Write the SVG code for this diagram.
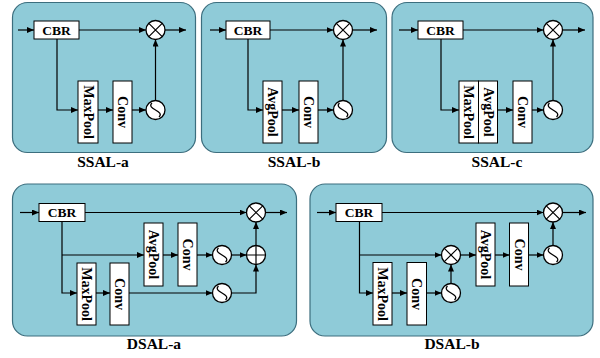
<svg xmlns="http://www.w3.org/2000/svg" width="600" height="358" viewBox="0 0 600 358">
<style>
.panel{fill:#8FCBD8;stroke:#3C6E7E;stroke-width:1.2}
.box{fill:#fff;stroke:#000;stroke-width:1}
.op{fill:#fff;stroke:#000;stroke-width:1.3}
.sym{fill:none;stroke:#000;stroke-width:1.2}
.lbl{font-family:"Liberation Serif","Times New Roman",serif;font-weight:bold;font-size:13.5px;fill:#000}
.vl{font-size:14px}
.title{font-family:"Liberation Serif","Times New Roman",serif;font-weight:bold;font-size:15.5px;fill:#000;text-anchor:middle}
.conn path{fill:none;stroke:#000;stroke-width:1.2;marker-end:url(#ah)}
</style>
<defs>
<marker id="ah" markerUnits="userSpaceOnUse" markerWidth="7" markerHeight="6" refX="7" refY="3" orient="auto">
<path d="M0,0 L7,3 L0,6 z" fill="#000"/>
</marker>
<g id="mul"><circle class="op" r="9.5"/><path class="sym" d="M-6.7,-6.7 L6.7,6.7 M-6.7,6.7 L6.7,-6.7"/></g>
<g id="add"><circle class="op" r="9.5"/><path class="sym" d="M-9.5,0 H9.5 M0,-9.5 V9.5"/></g>
<g id="sig"><circle class="op" r="9.5"/><path class="sym" d="M-3.5,-7 C-10,-1 10,1 3.5,7"/></g>
</defs>

<g id="panels">
<rect class="panel" x="12.5" y="2.5" width="183" height="150" rx="15"/>
<rect class="panel" x="201.5" y="2.5" width="185" height="150" rx="15"/>
<rect class="panel" x="392" y="2.5" width="201" height="150" rx="15"/>
<rect class="panel" x="12.5" y="184" width="284" height="152" rx="15"/>
<rect class="panel" x="310" y="184" width="283" height="152" rx="15"/>
</g>

<g class="conn" id="connectors">
<!-- SSAL-a -->
<path d="M18,30 H34"/>
<path d="M79,30 H146"/>
<path d="M165,30 H186"/>
<path d="M57,39 V110 H78"/>
<path d="M98,110 H113"/>
<path d="M132,110 H146"/>
<path d="M155.5,100.5 V39.5"/>
<!-- SSAL-b -->
<path d="M210,30 H226"/>
<path d="M270,30 H333.5"/>
<path d="M352.5,30 H377"/>
<path d="M248,39 V110 H263"/>
<path d="M282,110 H299"/>
<path d="M318,110 H333.5"/>
<path d="M343,100.5 V39.5"/>
<!-- SSAL-c -->
<path d="M399,30 H418"/>
<path d="M463,30 H543.5"/>
<path d="M562.5,30 H585"/>
<path d="M441,39 V110 H459"/>
<path d="M497.5,110 H513"/>
<path d="M532,110 H543.5"/>
<path d="M553,100.5 V39.5"/>
<!-- DSAL-a -->
<path d="M20,212.5 H39"/>
<path d="M85,212.5 H246.5"/>
<path d="M265.5,212.5 H287"/>
<path d="M62,221.5 V293 H77"/>
<path d="M62,255 H144"/>
<path d="M163,255 H178"/>
<path d="M197,255 H212.5"/>
<path d="M231.5,255 H246.5"/>
<path d="M256,245.5 V222"/>
<path d="M96,293 H110"/>
<path d="M129,293 H212.5"/>
<path d="M231.5,293 H256 V264.5"/>
<!-- DSAL-b -->
<path d="M317,212.5 H336"/>
<path d="M382,212.5 H543.5"/>
<path d="M562.5,212.5 H586"/>
<path d="M359.5,221.5 V293 H373"/>
<path d="M359.5,255 H441.5"/>
<path d="M392,293 H407"/>
<path d="M426.5,293 H441.5"/>
<path d="M451,283.5 V264.5"/>
<path d="M460.5,255 H476"/>
<path d="M495,255 H509.5"/>
<path d="M528.5,255 H543.5"/>
<path d="M553,245.5 V222"/>
</g>

<!-- SSAL-a nodes -->
<g id="a-cbr"><rect class="box" x="34" y="21" width="45" height="18"/><text class="lbl" x="56.5" y="30" text-anchor="middle" dominant-baseline="central">CBR</text></g>
<g id="a-maxpool"><rect class="box" x="78" y="81" width="20" height="62"/><text class="lbl vl" text-anchor="middle" dominant-baseline="central" transform="translate(88,112) rotate(90)">MaxPool</text></g>
<g id="a-conv"><rect class="box" x="113" y="81" width="19" height="62"/><text class="lbl vl" text-anchor="middle" dominant-baseline="central" transform="translate(122.5,112) rotate(90)">Conv</text></g>
<g id="a-sig"><use href="#sig" x="155.5" y="110"/></g>
<g id="a-mul"><use href="#mul" x="155.5" y="30"/></g>
<text class="title" x="103" y="167">SSAL-a</text>

<!-- SSAL-b nodes -->
<g id="b-cbr"><rect class="box" x="226" y="21" width="44" height="18"/><text class="lbl" x="248" y="30" text-anchor="middle" dominant-baseline="central">CBR</text></g>
<g id="b-avgpool"><rect class="box" x="263" y="81" width="19" height="62"/><text class="lbl vl" text-anchor="middle" dominant-baseline="central" transform="translate(272.5,112) rotate(90)">AvgPool</text></g>
<g id="b-conv"><rect class="box" x="299" y="81" width="19" height="62"/><text class="lbl vl" text-anchor="middle" dominant-baseline="central" transform="translate(308.5,112) rotate(90)">Conv</text></g>
<g id="b-sig"><use href="#sig" x="343" y="110"/></g>
<g id="b-mul"><use href="#mul" x="343" y="30"/></g>
<text class="title" x="294" y="167">SSAL-b</text>

<!-- SSAL-c nodes -->
<g id="c-cbr"><rect class="box" x="418" y="21" width="45" height="18"/><text class="lbl" x="440.5" y="30" text-anchor="middle" dominant-baseline="central">CBR</text></g>
<g id="c-maxpool"><rect class="box" x="459" y="81" width="19.5" height="62"/><text class="lbl vl" text-anchor="middle" dominant-baseline="central" transform="translate(468.75,112) rotate(90)">MaxPool</text></g>
<g id="c-avgpool"><rect class="box" x="478.5" y="81" width="19" height="62"/><text class="lbl vl" text-anchor="middle" dominant-baseline="central" transform="translate(488,112) rotate(90)">AvgPool</text></g>
<g id="c-conv"><rect class="box" x="513" y="81" width="19" height="62"/><text class="lbl vl" text-anchor="middle" dominant-baseline="central" transform="translate(522.5,112) rotate(90)">Conv</text></g>
<g id="c-sig"><use href="#sig" x="553" y="110"/></g>
<g id="c-mul"><use href="#mul" x="553" y="30"/></g>
<text class="title" x="497" y="167">SSAL-c</text>

<!-- DSAL-a nodes -->
<g id="d-cbr"><rect class="box" x="39" y="203.5" width="46" height="18"/><text class="lbl" x="62" y="212.5" text-anchor="middle" dominant-baseline="central">CBR</text></g>
<g id="d-avgpool"><rect class="box" x="144" y="223" width="19" height="63"/><text class="lbl vl" text-anchor="middle" dominant-baseline="central" transform="translate(153.5,254.5) rotate(90)">AvgPool</text></g>
<g id="d-conv1"><rect class="box" x="178" y="223" width="19" height="63"/><text class="lbl vl" text-anchor="middle" dominant-baseline="central" transform="translate(187.5,254.5) rotate(90)">Conv</text></g>
<g id="d-maxpool"><rect class="box" x="77" y="263" width="19" height="62"/><text class="lbl vl" text-anchor="middle" dominant-baseline="central" transform="translate(86.5,294) rotate(90)">MaxPool</text></g>
<g id="d-conv2"><rect class="box" x="110" y="263" width="19" height="62"/><text class="lbl vl" text-anchor="middle" dominant-baseline="central" transform="translate(119.5,294) rotate(90)">Conv</text></g>
<g id="d-sig1"><use href="#sig" x="222" y="255"/></g>
<g id="d-sig2"><use href="#sig" x="222" y="293"/></g>
<g id="d-add"><use href="#add" x="256" y="255"/></g>
<g id="d-mul"><use href="#mul" x="256" y="212.5"/></g>
<text class="title" x="154" y="349">DSAL-a</text>

<!-- DSAL-b nodes -->
<g id="e-cbr"><rect class="box" x="336" y="203.5" width="46" height="18"/><text class="lbl" x="359" y="212.5" text-anchor="middle" dominant-baseline="central">CBR</text></g>
<g id="e-maxpool"><rect class="box" x="373" y="262.5" width="19" height="62.5"/><text class="lbl vl" text-anchor="middle" dominant-baseline="central" transform="translate(382.5,294) rotate(90)">MaxPool</text></g>
<g id="e-conv1"><rect class="box" x="407" y="262.5" width="19.5" height="62.5"/><text class="lbl vl" text-anchor="middle" dominant-baseline="central" transform="translate(416.75,294) rotate(90)">Conv</text></g>
<g id="e-sig1"><use href="#sig" x="451" y="293"/></g>
<g id="e-mul1"><use href="#mul" x="451" y="255"/></g>
<g id="e-avgpool"><rect class="box" x="476" y="223" width="19" height="63"/><text class="lbl vl" text-anchor="middle" dominant-baseline="central" transform="translate(485.5,254.5) rotate(90)">AvgPool</text></g>
<g id="e-conv2"><rect class="box" x="509.5" y="223" width="19" height="63"/><text class="lbl vl" text-anchor="middle" dominant-baseline="central" transform="translate(519,254.5) rotate(90)">Conv</text></g>
<g id="e-sig2"><use href="#sig" x="553" y="255"/></g>
<g id="e-mul2"><use href="#mul" x="553" y="212.5"/></g>
<text class="title" x="452" y="349">DSAL-b</text>
</svg>
